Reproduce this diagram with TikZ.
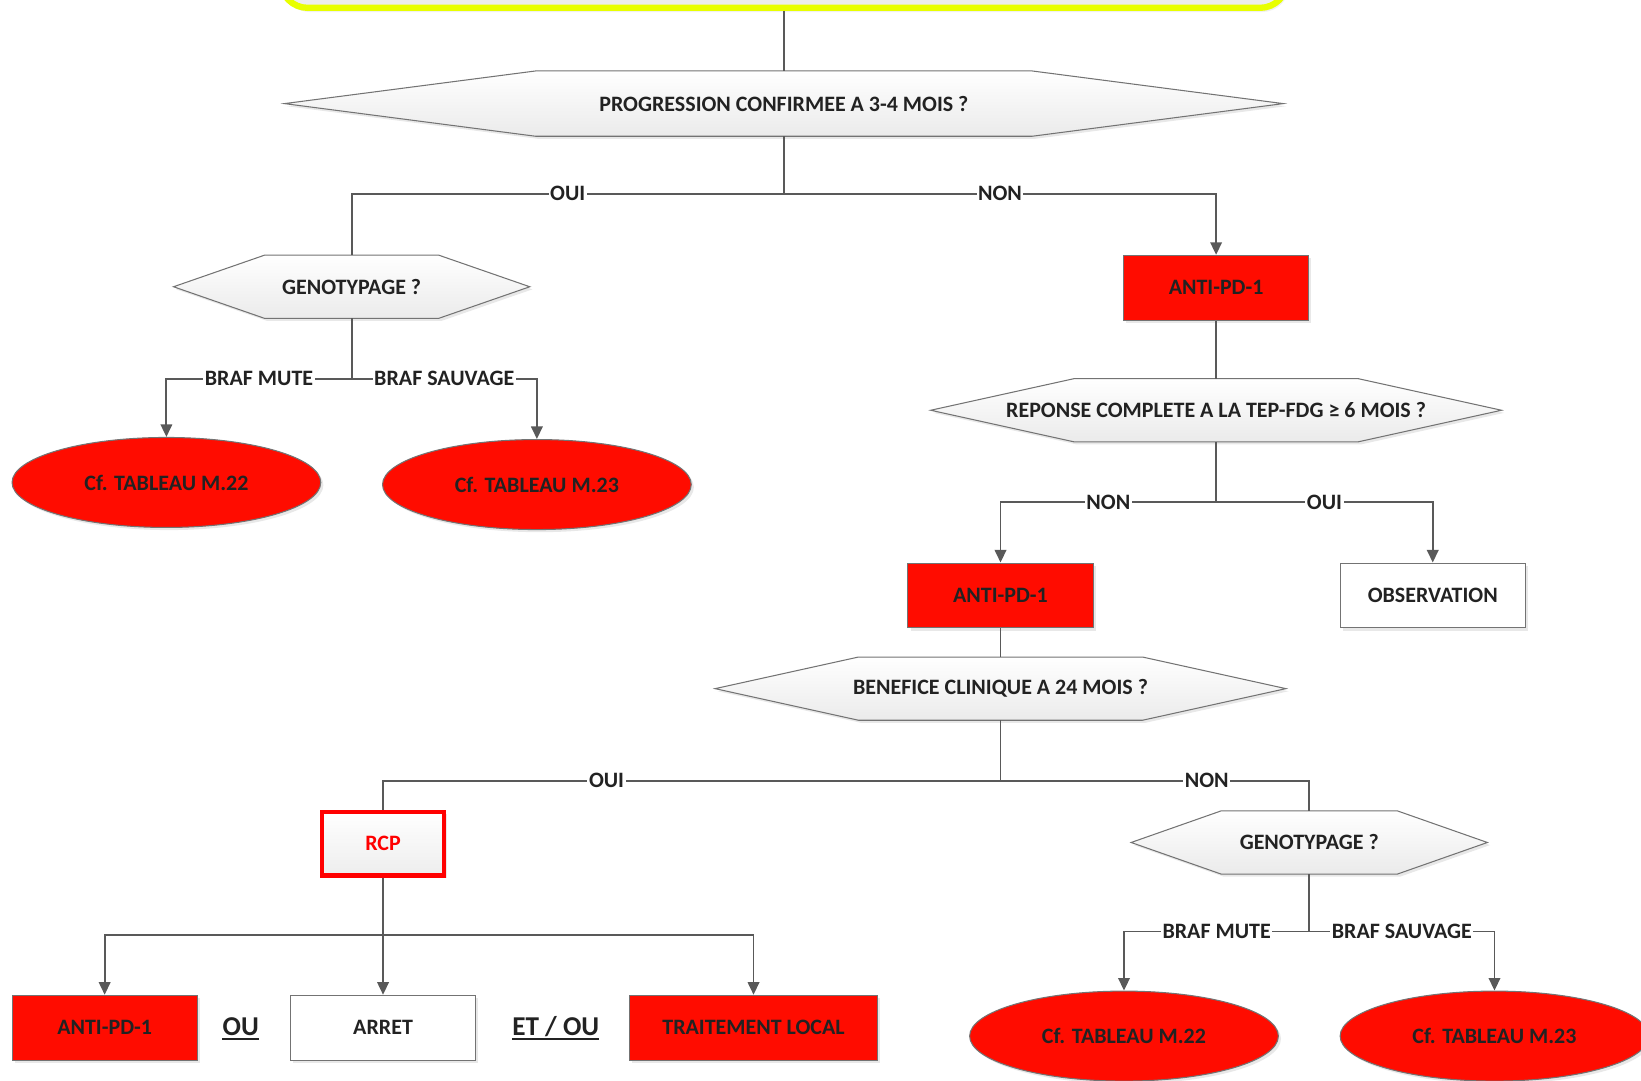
\documentclass[tikz,border=0pt]{standalone}
\usepackage{fontspec}
\setmainfont{Carlito}
\usetikzlibrary{shapes.geometric,arrows.meta,calc,shadows,backgrounds}

\definecolor{boxred}{RGB}{255,12,0}
\definecolor{linegray}{RGB}{89,89,89}
\definecolor{txt}{RGB}{34,34,34}
\definecolor{edgegray}{RGB}{115,115,115}
\definecolor{hlyellow}{RGB}{232,255,0}

% hexagonal decision outline drawn around a named rectangular node
\newcommand\hexagonfor[2]{%
  \path[hexface] (#1.west) -- ($(#1.north west)+(#2,0)$) -- ($(#1.north east)+(-#2,0)$)
    -- (#1.east) -- ($(#1.south east)+(-#2,0)$) -- ($(#1.south west)+(#2,0)$) -- cycle;}
% underline under a named word node
\newcommand\underrule[1]{%
  \draw[line width=1.8pt, draw=txt] ([yshift=-3.5pt]#1.base west) -- ([yshift=-3.5pt]#1.base east);}

\begin{document}
\begin{tikzpicture}[x=1pt,y=-1pt,
  font=\fontsize{21}{25}\selectfont\bfseries, text=txt,
  softshadow/.style={drop shadow={opacity=0.18, shadow xshift=2.5pt, shadow yshift=-2.5pt}},
  conn/.style={draw=linegray, line width=1.8pt},
  arr/.style={conn, -{Triangle[length=12pt,width=11pt]}},
  lbl/.style={fill=white, inner sep=1.5pt, text=txt},
  redbox/.style={rectangle, draw=edgegray, line width=1pt, fill=boxred,
    minimum width=177pt, minimum height=62pt, softshadow},
  whitebox/.style={rectangle, draw=edgegray, line width=1pt, fill=white,
    minimum width=177pt, minimum height=62pt, softshadow},
  redell/.style={ellipse, draw=edgegray, line width=1pt, fill=boxred,
    minimum width=295pt, minimum height=86pt, softshadow},
  hexbox/.style={rectangle, inner sep=0pt, minimum height=60pt},
  hexface/.style={draw=edgegray, line width=1pt, top color=white, bottom color=black!8, softshadow},
  topbox/.style={rectangle, rounded corners=26pt, draw=hlyellow, line width=6pt,
    fill=black!7, minimum width=962pt, minimum height=100pt,
    drop shadow={opacity=0.12, shadow xshift=2pt, shadow yshift=-4pt}},
  rcpbox/.style={rectangle, draw=red, line width=4pt, top color=white, bottom color=black!7,
    minimum width=117pt, minimum height=61pt, text=red, softshadow},
  connword/.style={font=\fontsize{26}{30}\selectfont\bfseries, text=txt, inner sep=0pt}
]
\useasboundingbox (0,0) rectangle (1568,1032);
\clip (0,0) rectangle (1568,1032);

% entry box at the top
\node[topbox] (top) at (749,-42.5) {};

% decision nodes
\node[hexbox, minimum width=954pt, minimum height=62pt] (q1) at (749,99) {PROGRESSION CONFIRMEE A 3-4 MOIS ?};
\node[hexbox, minimum width=340pt] (g1) at (336,274) {GENOTYPAGE ?};
\node[hexbox, minimum width=545pt] (q2) at (1162,392) {REPONSE COMPLETE A LA TEP-FDG ≥ 6 MOIS ?};
\node[hexbox, minimum width=545pt] (q3) at (956,658) {BENEFICE CLINIQUE A 24 MOIS ?};
\node[hexbox, minimum width=340pt] (g2) at (1251,805) {GENOTYPAGE ?};
\begin{pgfonlayer}{background}
  \hexagonfor{q1}{240}
  \hexagonfor{g1}{87}
  \hexagonfor{q2}{137}
  \hexagonfor{q3}{137}
  \hexagonfor{g2}{86}
\end{pgfonlayer}

% treatment boxes
\node[redbox] (a1) at (1162,275) {ANTI-PD-1};
\node[redbox] (a2) at (956,569) {ANTI-PD-1};
\node[whitebox] (obs) at (1369,569) {OBSERVATION};
\node[rcpbox] (rcp) at (366,806) {RCP};
\node[redbox] (b1) at (100,982) {ANTI-PD-1};
\node[whitebox] (b2) at (366,982) {ARRET};
\node[redbox, minimum width=237pt] (b3) at (720,982) {TRAITEMENT LOCAL};
\node[connword] (ou) at (230,981) {OU};
\node[connword] (etou) at (531,981) {ET / OU};
\underrule{ou}
\underrule{etou}

% references to other tables
\node[redell] (e1) at (159,461) {Cf. TABLEAU M.22};
\node[redell] (e2) at (513,463) {Cf. TABLEAU M.23};
\node[redell] (e3) at (1074,990) {Cf. TABLEAU M.22};
\node[redell] (e4) at (1428,990) {Cf. TABLEAU M.23};

% junction points
\coordinate (j1) at (749,185);
\coordinate (j2) at (336,362);
\coordinate (j3) at (1162,480);
\coordinate (j4) at (956,746);
\coordinate (j5) at (1251,890);
\coordinate (j6) at (366,893);

% connectors
\draw[conn] (top) -- (q1.north);
\draw[conn] (q1.south) -- (j1);
\draw[conn] (j1) -| node[lbl,pos=0.25]{OUI} (g1.north);
\draw[arr] (j1) -| node[lbl,pos=0.25]{NON} (a1.north);

\draw[conn] (g1.south) -- (j2);
\draw[arr] (j2) -| node[lbl,pos=0.25]{BRAF MUTE} (e1.north);
\draw[arr] (j2) -| node[lbl,pos=0.25]{BRAF SAUVAGE} (e2.north);

\draw[conn] (a1) -- (q2.north);
\draw[conn] (q2.south) -- (j3);
\draw[arr] (j3) -| node[lbl,pos=0.25]{NON} (a2.north);
\draw[arr] (j3) -| node[lbl,pos=0.25]{OUI} (obs.north);

\draw[conn] (a2) -- (q3.north);
\draw[conn] (q3.south) -- (j4);
\draw[conn] (j4) -| node[lbl,pos=0.319]{OUI} (rcp.north);
\draw[conn] (j4) -| node[lbl,pos=0.334]{NON} (g2.north);

\draw[conn] (g2.south) -- (j5);
\draw[arr] (j5) -| node[lbl,pos=0.25]{BRAF MUTE} (e3.north);
\draw[arr] (j5) -| node[lbl,pos=0.25]{BRAF SAUVAGE} (e4.north);

\draw[conn] (rcp) -- (j6);
\draw[arr] (j6) -| (b1.north);
\draw[arr] (j6) -- (b2.north);
\draw[arr] (j6) -| (b3.north);
\end{tikzpicture}
\end{document}
